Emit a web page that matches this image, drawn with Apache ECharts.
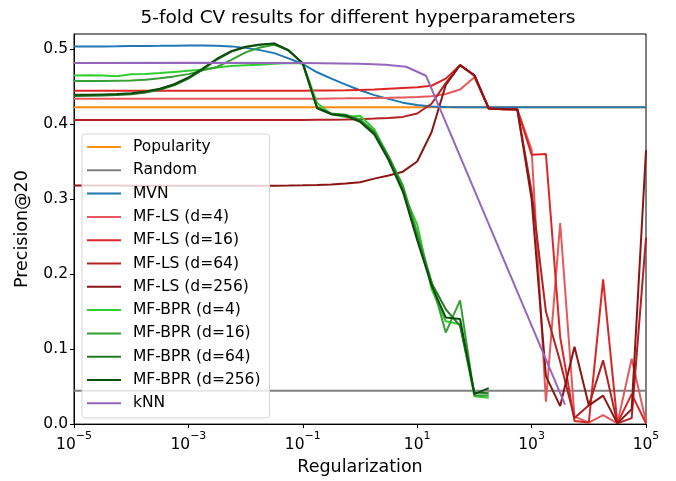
<!DOCTYPE html>
<html>
<head>
<meta charset="utf-8">
<title>5-fold CV results</title>
<script src="https://cdn.jsdelivr.net/npm/echarts@6/dist/echarts.min.js"></script>
<style>
  html, body { margin: 0; padding: 0; background: #fff; }
  #chart { width: 676px; height: 481px; }
</style>
</head>
<body>
<div id="chart"></div>
<script>
  // regularization values (4 per decade)
  var regGrid = [
    1e-5, 1.78e-5, 3.16e-5, 5.62e-5,
    1e-4, 1.78e-4, 3.16e-4, 5.62e-4,
    1e-3, 1.78e-3, 3.16e-3, 5.62e-3,
    1e-2, 1.78e-2, 3.16e-2, 5.62e-2,
    0.1, 0.178, 0.316, 0.562,
    1, 1.78, 3.16, 5.62,
    10, 17.8, 31.6, 56.2,
    100, 178, 316, 562,
    1000, 1780, 3160, 5620,
    1e4, 1.78e4, 3.16e4, 5.62e4,
    1e5
  ];
  var bprReg = regGrid.slice(0, 30); // MF-BPR stops at 178
  var knnReg = [1e-5, 1e-3, 0.1, 1, 2.8, 6.4, 14.3, 3840];
  var flatReg = [1e-5, 1e5];

  var xTickLabels = ["10", "10", "10", "10", "10", "10"];

  var popularity = [0.4223, 0.4223];
  var random = [0.0445, 0.0445];
  var mvn = [
    0.5035, 0.5035, 0.5035, 0.5037, 0.504, 0.504, 0.5042, 0.5045, 0.5046, 0.5047,
    0.5045, 0.5035, 0.5015, 0.4985, 0.4945, 0.4875, 0.480, 0.469, 0.4605, 0.4525,
    0.445, 0.4385, 0.4335, 0.4285, 0.4255, 0.4235, 0.4226, 0.4223, 0.4222, 0.4222,
    0.4222, 0.4222, 0.4222, 0.4222, 0.4222, 0.4222, 0.4222, 0.4222, 0.4222, 0.4222,
    0.4222
  ];
  var mfls4 = [
    0.4337, 0.4337, 0.4337, 0.4337, 0.4337, 0.4337, 0.4337, 0.4337, 0.4337, 0.4337,
    0.4337, 0.4337, 0.4337, 0.4337, 0.4337, 0.4337, 0.4337, 0.4338, 0.434, 0.4342,
    0.4345, 0.4348, 0.435, 0.4355, 0.436, 0.437, 0.440, 0.446, 0.4625, 0.421,
    0.4195, 0.4195, 0.366, 0.03, 0.268, 0.01, 0.002, 0.012, 0.001, 0.087,
    0.003
  ];
  var mfls16 = [
    0.4444, 0.4444, 0.4444, 0.4444, 0.4444, 0.4444, 0.4444, 0.4444, 0.4444, 0.4444,
    0.4444, 0.4444, 0.4444, 0.4444, 0.4444, 0.4444, 0.4444, 0.4446, 0.4448, 0.445,
    0.4455, 0.446, 0.447, 0.448, 0.449, 0.451, 0.4605, 0.4785, 0.465, 0.4205,
    0.42, 0.4195, 0.359, 0.36, 0.116, 0.004, 0.002, 0.193, 0.001, 0.04,
    0.001
  ];
  var mfls64 = [
    0.4054, 0.4054, 0.4054, 0.4054, 0.4054, 0.4054, 0.4054, 0.4054, 0.4054, 0.4054,
    0.4054, 0.4054, 0.4054, 0.4054, 0.4054, 0.4054, 0.4054, 0.4056, 0.4058, 0.406,
    0.4065, 0.4072, 0.408, 0.4095, 0.414, 0.427, 0.4545, 0.4785, 0.4645, 0.4205,
    0.42, 0.4195, 0.31, 0.15, 0.083, 0.008, 0.025, 0.085, 0.001, 0.008,
    0.249
  ];
  var mfls256 = [
    0.3182, 0.3181, 0.318, 0.3179, 0.3178, 0.3177, 0.3176, 0.3176, 0.3176, 0.3176,
    0.3176, 0.3176, 0.3177, 0.3177, 0.3178, 0.318, 0.3183, 0.3188, 0.3195, 0.3207,
    0.3225, 0.3272, 0.3315, 0.3365, 0.35, 0.389, 0.452, 0.4785, 0.465, 0.421,
    0.4198, 0.4197, 0.30, 0.064, 0.024, 0.103, 0.025, 0.038, 0.001, 0.02,
    0.365
  ];
  var bpr4 = [
    0.4648, 0.465, 0.4648, 0.4638, 0.4662, 0.4668, 0.468, 0.4695, 0.471, 0.4728,
    0.4752, 0.4772, 0.4785, 0.479, 0.4802, 0.4812, 0.481, 0.428, 0.413, 0.4095,
    0.411, 0.393, 0.356, 0.31, 0.266, 0.18, 0.137, 0.133, 0.037, 0.035
  ];
  var bpr16 = [
    0.4575, 0.4575, 0.4575, 0.4578, 0.458, 0.459, 0.461, 0.4635, 0.4665, 0.4715,
    0.476, 0.4855, 0.4955, 0.502, 0.5055, 0.4985, 0.4805, 0.4215, 0.414, 0.4125,
    0.406, 0.39, 0.357, 0.318, 0.255, 0.19, 0.122, 0.165, 0.038, 0.038
  ];
  var bpr64 = [
    0.4375, 0.4378, 0.438, 0.4388, 0.4398, 0.442, 0.4455, 0.4515, 0.4605, 0.4725,
    0.486, 0.4965, 0.5025, 0.5055, 0.507, 0.4985, 0.4805, 0.422, 0.4135, 0.4115,
    0.4045, 0.388, 0.355, 0.312, 0.248, 0.188, 0.153, 0.131, 0.042, 0.041
  ];
  var bpr256 = [
    0.439, 0.439, 0.4395, 0.440, 0.441, 0.4435, 0.447, 0.453, 0.462, 0.474,
    0.487, 0.497, 0.503, 0.506, 0.5075, 0.498, 0.481, 0.421, 0.413, 0.411,
    0.403, 0.386, 0.352, 0.31, 0.245, 0.185, 0.142, 0.14, 0.04, 0.048
  ];
  var knn = [0.4815, 0.4818, 0.4815, 0.4805, 0.479, 0.4763, 0.4643, 0.026];

  var yTicks = [0, 0.1, 0.2, 0.3, 0.4, 0.5];

  var FONT = "DejaVu Sans";

  function pairs(xs, ys) {
    return xs.map(function (x, i) {
      return [x, ys[i]];
    });
  }

  var lines = [
    {name: "Popularity", color: "#ff8c0e", x: flatReg, y: popularity},
    {name: "Random", color: "#808080", x: flatReg, y: random},
    {name: "MVN", color: "#1f77b4", x: regGrid, y: mvn},
    {name: "MF-LS (d=4)", color: "#e5585b", x: regGrid, y: mfls4},
    {name: "MF-LS (d=16)", color: "#dc2626", x: regGrid, y: mfls16},
    {name: "MF-LS (d=64)", color: "#b22222", x: regGrid, y: mfls64},
    {name: "MF-LS (d=256)", color: "#8b1414", x: regGrid, y: mfls256},
    {name: "MF-BPR (d=4)", color: "#32cd32", x: bprReg, y: bpr4},
    {name: "MF-BPR (d=16)", color: "#34a034", x: bprReg, y: bpr16},
    {name: "MF-BPR (d=64)", color: "#257a25", x: bprReg, y: bpr64},
    {name: "MF-BPR (d=256)", color: "#0c4c0c", x: bprReg, y: bpr256},
    {name: "kNN", color: "#9467bd", x: knnReg, y: knn}
  ];

  var series = lines.map(function (l) {
    return {
      name: l.name,
      type: "line",
      color: l.color,
      showSymbol: false,
      symbol: "none",
      lineStyle: {width: 2, color: l.color},
      data: pairs(l.x, l.y)
    };
  });

  var myChart = echarts.init(document.getElementById("chart"), null, {renderer: "canvas"});
  var option = {
    animation: false,
    backgroundColor: "#fff",
    textStyle: {fontFamily: FONT},
    title: {
      text: "5-fold CV results for different hyperparameters",
      left: 358,
      top: 9,
      padding: 0,
      textAlign: "center",
      textStyle: {fontFamily: FONT, fontSize: 18.5, fontWeight: "normal", color: "#000"}
    },
    grid: {
      left: 74,
      right: 30,
      top: 34,
      bottom: 56,
      show: true,
      borderColor: "#000",
      borderWidth: 1
    },
    legend: {
      orient: "vertical",
      left: 82,
      top: 134,
      selectedMode: false,
      icon: "rect",
      itemWidth: 34,
      itemHeight: 2,
      itemGap: 7.3,
      padding: [5, 9, 6.7, 5],
      backgroundColor: "rgba(255,255,255,0.8)",
      borderColor: "#d4d4d4",
      borderWidth: 1,
      borderRadius: 3,
      textStyle: {fontFamily: FONT, fontSize: 15.5, lineHeight: 16, color: "#000", padding: [0, 0, 0, 7]},
      data: lines.map(function (l) { return l.name; })
    },
    xAxis: {
      type: "log",
      logBase: 10,
      min: 1e-5,
      max: 1e5,
      interval: 2,
      name: "Regularization",
      nameLocation: "middle",
      nameGap: 33,
      nameTextStyle: {fontFamily: FONT, fontSize: 17.5, color: "#000"},
      axisLine: {show: true, lineStyle: {color: "#000", width: 1}},
      axisTick: {show: true, length: 4, lineStyle: {color: "#000"}},
      minorTick: {show: false},
      splitLine: {show: false},
      axisLabel: {
        margin: 7,
        formatter: function (v) {
          var e = Math.round(Math.log10(v));
          var i = Math.round((e + 5) / 2);
          return "{b|" + xTickLabels[i] + "}{s|" + (e < 0 ? "\u2212" : "") + Math.abs(e) + "}";
        },
        rich: {
          b: {fontFamily: FONT, fontSize: 15.5, lineHeight: 22, verticalAlign: "bottom", color: "#000"},
          s: {fontFamily: FONT, fontSize: 11, lineHeight: 12, verticalAlign: "top", color: "#000"}
        }
      }
    },
    yAxis: {
      type: "value",
      min: 0,
      max: 0.52,
      name: "Precision@20",
      nameLocation: "middle",
      nameGap: 43,
      nameTextStyle: {fontFamily: FONT, fontSize: 17.5, color: "#000"},
      axisLine: {show: true, lineStyle: {color: "#000", width: 1}},
      axisTick: {show: true, length: 4, lineStyle: {color: "#000"}, customValues: yTicks},
      splitLine: {show: false},
      axisLabel: {
        margin: 6,
        customValues: yTicks,
        fontFamily: FONT,
        fontSize: 15.5,
        color: "#000",
        formatter: function (v) {
          return v.toFixed(1);
        }
      }
    },
    series: series
  };
  myChart.setOption(option);
</script>
</body>
</html>
